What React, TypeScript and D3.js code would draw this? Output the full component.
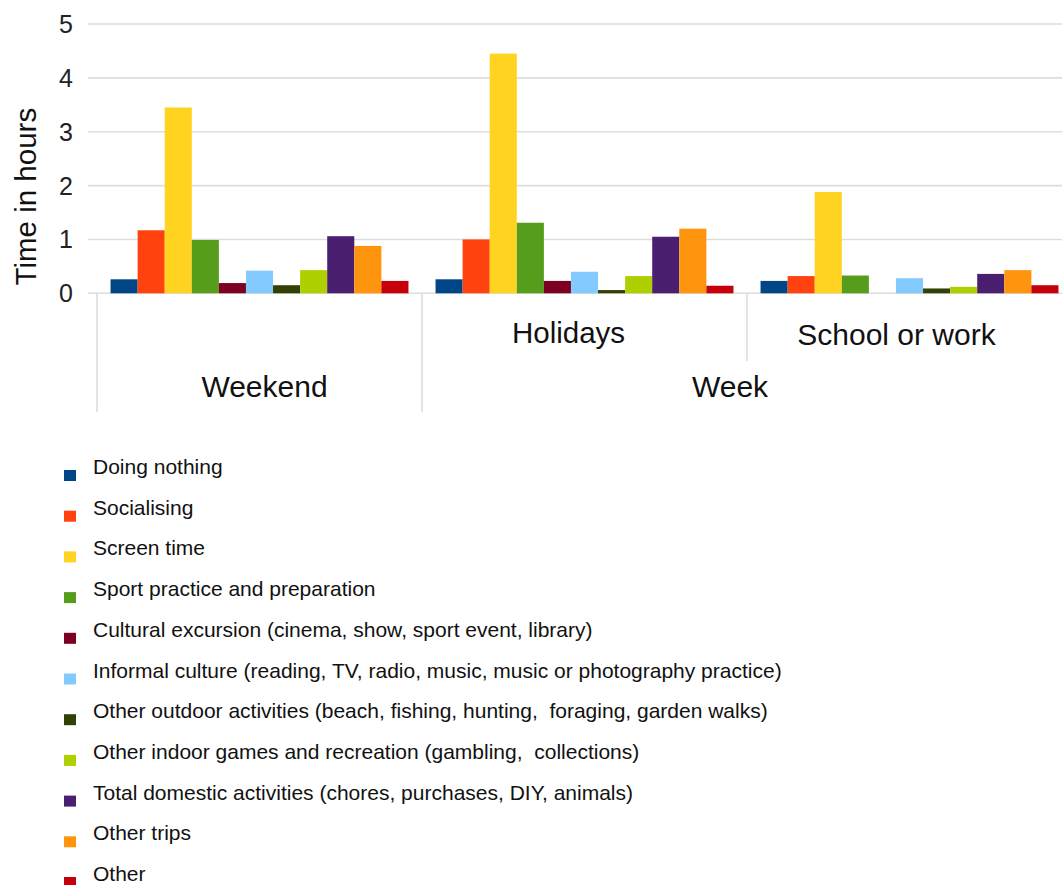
import React from "react";
import * as d3 from "d3";

const groups = ["Weekend", "Holidays", "School or work"];
const series = [
  "Doing nothing",
  "Socialising",
  "Screen time",
  "Sport practice and preparation",
  "Cultural excursion (cinema, show, sport event, library)",
  "Informal culture (reading, TV, radio, music, music or photography practice)",
  "Other outdoor activities (beach, fishing, hunting,  foraging, garden walks)",
  "Other indoor games and recreation (gambling,  collections)",
  "Total domestic activities (chores, purchases, DIY, animals)",
  "Other trips",
  "Other",
];
const colors = [
  "#004586", "#ff420e", "#ffd320", "#579d1c", "#7e0021", "#83caff",
  "#314004", "#aecf00", "#4b1f6f", "#ff950e", "#c5000b",
];
const weekendValues = [0.26, 1.17, 3.45, 0.99, 0.19, 0.42, 0.15, 0.43, 1.06, 0.88, 0.23];
const holidaysValues = [0.26, 1.0, 4.45, 1.31, 0.23, 0.4, 0.06, 0.32, 1.05, 1.2, 0.14];
const schoolValues = [0.23, 0.32, 1.88, 0.33, 0, 0.28, 0.09, 0.12, 0.36, 0.43, 0.15];
const yTicks = [0, 1, 2, 3, 4, 5];
const superLabel = "Week";
const yTitle = "Time in hours";

const valuesByGroup = [weekendValues, holidaysValues, schoolValues];
const FONT = "'Liberation Sans', Arial, sans-serif";

export default function App() {
  const W = 1062, H = 885;
  const plotLeft = 97, plotRight = 1072, plotTop = 24, plotBottom = 293.3;
  const x0 = d3.scaleBand().domain(groups).range([plotLeft, plotRight]).padding(0);
  const x1 = d3.scaleBand().domain(series).range([0, x0.bandwidth()]).paddingInner(0).paddingOuter(0.5);
  const y = d3.scaleLinear().domain([0, 5]).range([plotBottom, plotTop]);

  const gridColor = "#dddddd";
  const legendTop = 474;
  const legendStep = 40.7;

  return (
    <svg width={W} height={H} style={{ position: "absolute", left: 0, top: 0, background: "#fff" }} fontFamily={FONT}>
      <defs>
        <clipPath id="clip"><rect x={0} y={0} width={W} height={H} /></clipPath>
      </defs>
      <g clipPath="url(#clip)">
        {yTicks.map((t) => (
          <g key={t}>
            <line x1={88} x2={W} y1={y(t)} y2={y(t)} stroke={gridColor} strokeWidth={1.6} />
            <text x={73} y={y(t)} dy="0.36em" textAnchor="end" fontSize={25} fill="#222">{t}</text>
          </g>
        ))}
        {/* axis separators */}
        <line x1={plotLeft} x2={plotLeft} y1={y(0)} y2={412} stroke={gridColor} strokeWidth={1.6} />
        <line x1={x0("Holidays")!} x2={x0("Holidays")!} y1={y(0)} y2={412} stroke={gridColor} strokeWidth={1.6} />
        <line x1={x0("School or work")!} x2={x0("School or work")!} y1={y(0)} y2={361} stroke={gridColor} strokeWidth={1.6} />

        {groups.map((g, gi) => (
          <g key={g} transform={`translate(${x0(g)},0)`}>
            {series.map((s, si) => {
              const v = valuesByGroup[gi][si];
              if (!v) return null;
              return (
                <rect key={s} x={x1(s)} y={y(v)} width={x1.bandwidth()} height={y(0) - y(v)} fill={colors[si]} />
              );
            })}
          </g>
        ))}

        {/* category labels */}
        <text x={x0("Weekend")! + x0.bandwidth() / 2 + 5} y={397} textAnchor="middle" fontSize={30} fill="#111">Weekend</text>
        <text x={x0("Holidays")! + x0.bandwidth() / 2 - 16} y={343} textAnchor="middle" fontSize={29.5} fill="#111">Holidays</text>
        <text x={x0("School or work")! + x0.bandwidth() / 2 - 13} y={345} textAnchor="middle" fontSize={30} fill="#111">School or work</text>
        <text x={(x0("Holidays")! + plotRight) / 2 - 17} y={397} textAnchor="middle" fontSize={30} fill="#111">{superLabel}</text>

        {/* y title */}
        <text transform={`translate(36,${(y(0) + y(5)) / 2 + 38}) rotate(-90)`} textAnchor="middle" fontSize={29.5} fill="#111">{yTitle}</text>

        {/* legend */}
        {series.map((s, i) => (
          <g key={s} transform={`translate(0,${legendTop + i * legendStep})`}>
            <rect x={64} y={-4} width={12} height={11} fill={colors[i]} />
            <text x={93} y={0} fontSize={21} fill="#111" style={{ whiteSpace: "pre" }}>{s}</text>
          </g>
        ))}
      </g>
    </svg>
  );
}
